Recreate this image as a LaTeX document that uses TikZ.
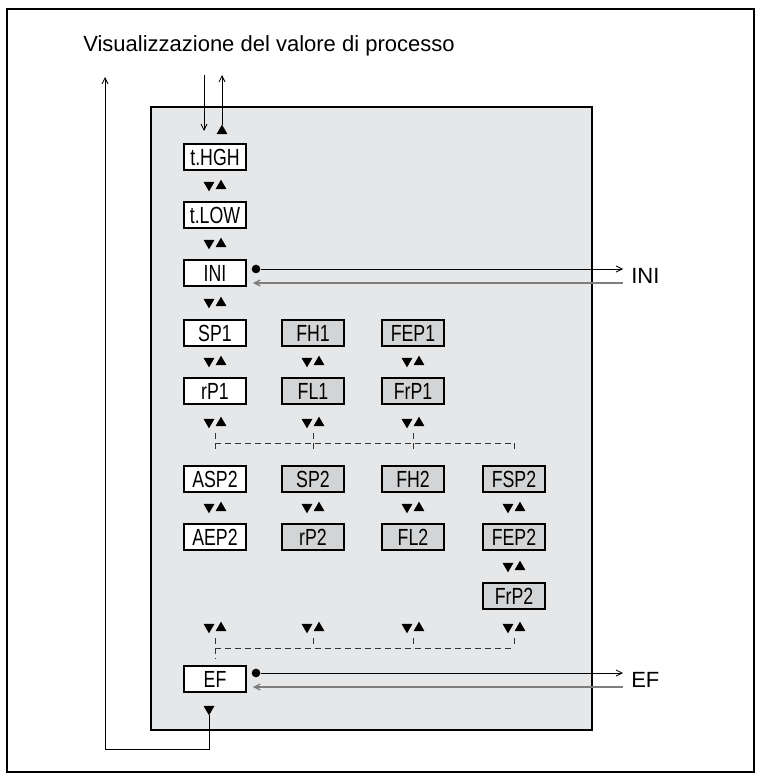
\documentclass[tikz,border=0pt]{standalone}
\usepackage{fontspec}
\setmainfont{Liberation Sans}
\newfontfamily\narrowfont[FakeStretch=0.76]{Liberation Sans}
\usetikzlibrary{arrows.meta, shapes.geometric}
\definecolor{panelgray}{RGB}{230,231,232}
\definecolor{boxgray}{RGB}{211,212,214}
\definecolor{linegray}{RGB}{125,125,125}

\begin{document}
\begin{tikzpicture}[x=0.75pt, y=-0.75pt,
    >={Straight Barb[length=4.5pt,width=4.5pt]},
    param/.style={draw, line width=1.3pt, fill=white, minimum width=46.5pt, minimum height=19pt, inner sep=0pt, font=\narrowfont\fontsize{17.5}{19}\selectfont},
    gparam/.style={param, fill=boxgray},
    uptri/.style={regular polygon, regular polygon sides=3, fill, inner sep=0pt, outer sep=0pt, minimum size=9.5pt},
    dntri/.style={uptri, rotate=180},
    dot/.style={circle, fill, inner sep=0pt, minimum size=6.5pt},
    outlbl/.style={font=\fontsize{16.5}{18}\selectfont, anchor=west, inner sep=0pt},
    flow/.style={line width=0.6pt},
    back/.style={line width=1pt, linegray},
    link/.style={line width=0.6pt, dash pattern=on 4.5pt off 3pt, black!80}]

    \useasboundingbox (0,0) rectangle (757,774);
    \draw[line width=1.5pt] (7,9) rectangle (754,772);
    \draw[fill=panelgray, line width=0.8pt] (151,107) rectangle (592,730);

    \node[anchor=base west, inner sep=0pt, font=\fontsize{16.5}{18}\selectfont] (title) at (83,52) {Visualizzazione del valore di processo};

    % parameter boxes
    \node[param] (thgh) at (215,157) {t.HGH};
    \node[param] (tlow) at (215,215) {t.LOW};
    \node[param] (ini) at (215,273) {INI};
    \node[param] (sp1) at (215,333) {SP1};
    \node[gparam] (fh1) at (313,333) {FH1};
    \node[gparam] (fep1) at (413,333) {FEP1};
    \node[param] (rp1) at (215,391) {rP1};
    \node[gparam] (fl1) at (313,391) {FL1};
    \node[gparam] (frp1) at (413,391) {FrP1};
    \node[param] (asp2) at (215,479) {ASP2};
    \node[gparam] (sp2) at (313,479) {SP2};
    \node[gparam] (fh2) at (413,479) {FH2};
    \node[gparam] (fsp2) at (514,479) {FSP2};
    \node[param] (aep2) at (215,537) {AEP2};
    \node[gparam] (rp2) at (313,537) {rP2};
    \node[gparam] (fl2) at (413,537) {FL2};
    \node[gparam] (fep2) at (514,537) {FEP2};
    \node[gparam] (frp2) at (514,596) {FrP2};
    \node[param] (ef) at (215,679) {EF};

    % up/down keys
    \foreach \x/\y [count=\i] in {215/186, 215/244, 215/303, 215/362, 215/423, 215/508, 215/628,
        313/362, 313/423, 313/508, 313/628, 413/362, 413/423, 413/508, 413/628,
        514/508, 514/567, 514/628} {
        \node[dntri] (d\i) at (\x-6,\y-1) {};
        \node[uptri] (u\i) at (\x+6,\y) {};
    }
    \node[uptri] (top) at (222,131) {};
    \node[dntri] (bot) at (209,709) {};

    % branches
    \draw[link] (215,443) -- (514,443);
    \foreach \x in {215,313,413} \draw[link] (\x,433) -- (\x,453);
    \draw[link] (514,443) -- (514,453);
    \draw[link] (215,648) -- (514,648);
    \foreach \x in {313,413,514} \draw[link] (\x,638) -- (\x,648);
    \draw[link] (215,638) -- (215,659);

    % entry / exit
    \coordinate (entry) at (204,75);
    \coordinate (entryend) at (204,131);
    \coordinate (exit) at (222,75);
    \draw[flow,->] (entry) -- (entryend);
    \draw[flow,->] (top.north) -- (exit);
    \coordinate (loopbot) at (105,749);
    \coordinate (looptop) at (105,77);
    \draw[flow,->] (bot.north) |- (loopbot) -- (looptop);

    % INI
    \node[dot] (inidot) at (256,269) {};
    \coordinate (iniout) at (623,269);
    \coordinate (iniret) at (623,283);
    \node[outlbl] (inilbl) at (631,276) {INI};
    \draw[flow,->] (inidot) -- (iniout);
    \draw[back,->] (iniret) -- ([xshift=4.5pt]ini.east |- iniret);

    % EF
    \node[dot] (efdot) at (256,673) {};
    \coordinate (efout) at (623,673);
    \coordinate (efret) at (623,687);
    \node[outlbl] (eflbl) at (631,680) {EF};
    \draw[flow,->] (efdot) -- (efout);
    \draw[back,->] (efret) -- ([xshift=4.5pt]ef.east |- efret);
\end{tikzpicture}
\end{document}
